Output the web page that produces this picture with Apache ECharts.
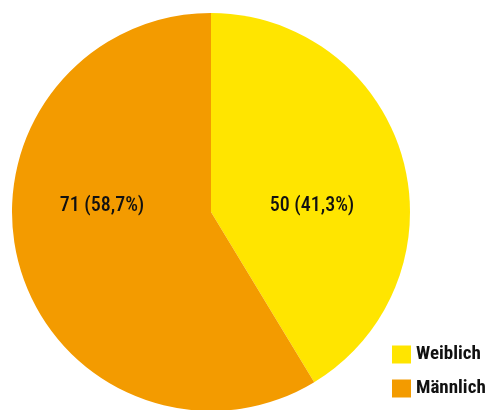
<!DOCTYPE html>
<html>
<head>
<meta charset="utf-8">
<script src="https://cdn.jsdelivr.net/npm/echarts@6/dist/echarts.min.js"></script>
<style>
  html, body { margin: 0; padding: 0; background: #fff; }
  #chart { width: 488px; height: 410px; }
</style>
</head>
<body>
<div id="chart"></div>
<script>
// Gender split
const categories = ['Weiblich', 'Männlich'];
const counts = [50, 71];
const colors = ['#FFE500', '#F39B00'];

const FONT = '"Roboto Condensed", "Liberation Sans Narrow", "DejaVu Sans Condensed", Roboto, sans-serif';
const total = counts.reduce((a, b) => a + b, 0);
const cx = 211, cy = 212, radius = 199;

const chart = echarts.init(document.getElementById('chart'), null, { renderer: 'canvas' });

chart.setOption({
  animation: false,
  legend: {
    orient: 'vertical',
    left: 392,
    top: 345,
    padding: 0,
    itemWidth: 19,
    itemHeight: 18,
    itemGap: 15,
    icon: 'rect',
    textStyle: { fontFamily: FONT, fontWeight: 'bold', fontSize: 19, color: '#111', padding: [0, 0, 0, 0] },
    data: categories
  },
  series: [{
    type: 'pie',
    center: [cx, cy],
    radius: radius,
    startAngle: 90,
    clockwise: true,
    label: {
      show: true,
      position: 'inside',
      fontFamily: FONT,
      fontSize: 20,
      fontWeight: 500,
      color: '#111',
      formatter: p => p.value + ' (' + (p.value / total * 100).toFixed(1).replace('.', ',') + '%)'
    },
    labelLayout: p => ({
      x: p.dataIndex === 0 ? cx + 101 : cx - 109,
      y: cy - 6
    }),
    labelLine: { show: false },
    emphasis: { disabled: true },
    data: categories.map((name, i) => ({
      name: name,
      value: counts[i],
      itemStyle: { color: colors[i] }
    }))
  }]
});
</script>
</body>
</html>
